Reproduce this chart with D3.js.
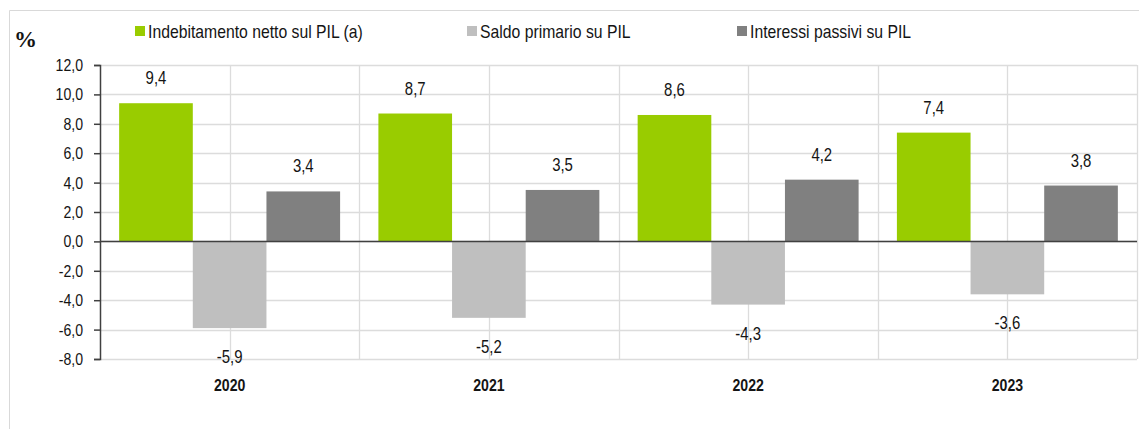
<!DOCTYPE html>
<html>
<head>
<meta charset="utf-8">
<script src="https://cdn.jsdelivr.net/npm/d3@7"></script>
<style>
  body { margin: 0; background: #fff; }
  text { font-family: "Liberation Sans", Arial, sans-serif; fill: #141414; }
</style>
</head>
<body>
<div class="chart"></div>
<script>
// data
var years = ["2020", "2021", "2022", "2023"];
var seriesNames = ["Indebitamento netto sul PIL (a)", "Saldo primario su PIL", "Interessi passivi su PIL"];
var indebitamento = [9.4, 8.7, 8.6, 7.4];
var saldoPrimario = [-5.9, -5.2, -4.3, -3.6];
var interessi = [3.4, 3.5, 4.2, 3.8];
var yTicks = [12, 10, 8, 6, 4, 2, 0, -2, -4, -6, -8];
var colors = ["#99cc00", "#bfbfbf", "#808080"];

var svgWidth = 1139;
var svgHeight = 429;
var margin = { top: 65, right: 2, bottom: 70, left: 100 };
var width = svgWidth - margin.left - margin.right;
var height = 359 - margin.top;

// the original uses a narrow font, so squeeze the text horizontally
var sx = 0.83;
var squeeze = (x, y) => `translate(${x}, ${y}) scale(${sx}, 1)`;

var svg = d3.select(".chart")
  .append("svg")
  .attr("width", svgWidth)
  .attr("height", svgHeight);

// outer frame
svg.append("path")
  .attr("d", "M9.5," + svgHeight + " V10.5 H" + svgWidth)
  .attr("fill", "none")
  .attr("stroke", "#d9d9d9");

var chartGroup = svg.append("g")
  .attr("transform", `translate(${margin.left}, ${margin.top})`);

var series = [indebitamento, saldoPrimario, interessi];
var rows = years.map(function (y, i) {
  return { year: y, values: series.map(function (s, j) { return { key: j, value: s[i] }; }) };
});

var fmt = d => d3.format(".1f")(d).replace(".", ",").replace("−", "-");

var x0 = d3.scaleBand().domain(years).range([0, width]);
var x1 = d3.scaleBand().domain([0, 1, 2]).range([0, x0.bandwidth()]).paddingOuter(0.26);
var y = d3.scaleLinear().domain([-8, 12]).range([height, 0]);

// horizontal gridlines
chartGroup.selectAll(".hgrid")
  .data(yTicks)
  .enter()
  .append("line")
  .attr("x1", 0)
  .attr("x2", width)
  .attr("y1", d => Math.round(y(d)) + 0.5)
  .attr("y2", d => Math.round(y(d)) + 0.5)
  .attr("stroke", "#dcdcdc")
  .attr("stroke-width", 1.3);

// vertical gridlines at category centres and boundaries
var vLines = [];
years.forEach(function (yr) {
  vLines.push(x0(yr) + x0.bandwidth() / 2);
  vLines.push(x0(yr) + x0.bandwidth());
});
chartGroup.selectAll(".vgrid")
  .data(vLines)
  .enter()
  .append("line")
  .attr("x1", d => Math.round(d) + 0.5)
  .attr("x2", d => Math.round(d) + 0.5)
  .attr("y1", 0)
  .attr("y2", height)
  .attr("stroke", "#dcdcdc")
  .attr("stroke-width", 1.3);

// bars
var groups = chartGroup.selectAll(".year")
  .data(rows)
  .enter()
  .append("g")
  .attr("transform", d => `translate(${x0(d.year)}, 0)`);

groups.selectAll("rect")
  .data(d => d.values)
  .enter()
  .append("rect")
  .attr("x", d => x1(d.key))
  .attr("width", x1.bandwidth())
  .attr("y", d => y(Math.max(0, d.value)))
  .attr("height", d => Math.abs(y(d.value) - y(0)))
  .attr("fill", d => colors[d.key]);

// value labels
groups.selectAll(".val")
  .data(d => d.values)
  .enter()
  .append("text")
  .attr("text-anchor", "middle")
  .attr("font-size", 18)
  .attr("transform", d => squeeze(x1(d.key) + x1.bandwidth() / 2,
    d.value >= 0 ? y(d.value) - 19 : y(d.value) + 35))
  .text(d => fmt(d.value));

// zero line
chartGroup.append("line")
  .attr("x1", 0)
  .attr("x2", width)
  .attr("y1", y(0))
  .attr("y2", y(0))
  .attr("stroke", "#404040")
  .attr("stroke-width", 1.5);

// left axis
var leftAxis = d3.axisLeft(y)
  .tickValues(yTicks)
  .tickSize(6)
  .tickPadding(11)
  .tickFormat(fmt);
var yAxisG = chartGroup.append("g").call(leftAxis);
yAxisG.select(".domain").attr("stroke", "#404040").attr("stroke-width", 1.5);
yAxisG.selectAll(".tick line").attr("stroke", "#404040").attr("stroke-width", 1.5);
yAxisG.selectAll(".tick text")
  .attr("font-size", 17)
  .attr("font-family", null)
  .attr("fill", "#141414")
  .attr("x", null)
  .attr("transform", squeeze(-17, 0));

// year labels
chartGroup.selectAll(".yearlbl")
  .data(years)
  .enter()
  .append("text")
  .attr("text-anchor", "middle")
  .attr("font-size", 17)
  .attr("font-weight", "bold")
  .attr("transform", d => squeeze(x0(d) + x0.bandwidth() / 2, height + 32))
  .text(d => d);

// "%" unit
svg.append("text")
  .attr("x", 14)
  .attr("y", 47)
  .attr("font-size", 23)
  .attr("font-weight", "bold")
  .style("font-family", "Liberation Serif, serif")
  .text("%");

// legend
var legendX = [135, 467, 737];
var legend = svg.selectAll(".legend")
  .data(seriesNames)
  .enter()
  .append("g")
  .attr("transform", (d, i) => `translate(${legendX[i]}, 0)`);
legend.append("rect")
  .attr("x", 0)
  .attr("y", 26)
  .attr("width", 10)
  .attr("height", 10)
  .attr("fill", (d, i) => colors[i]);
legend.append("text")
  .attr("font-size", 19)
  .attr("transform", squeeze(13, 38))
  .text(d => d);
</script>
</body>
</html>
